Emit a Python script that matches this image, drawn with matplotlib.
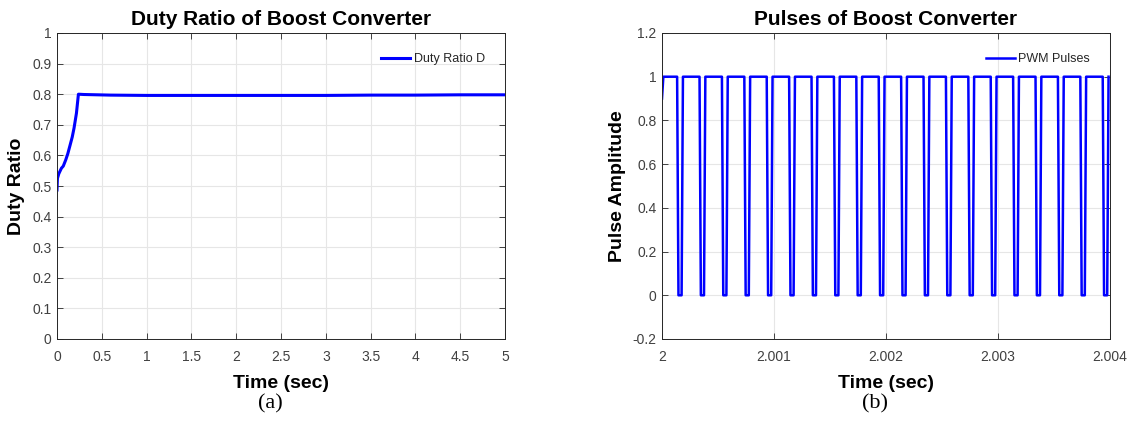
import matplotlib
matplotlib.use("Agg")
import matplotlib.pyplot as plt
import numpy as np

# ---- data ----
duty_t = [0.0, 0.005, 0.02, 0.049, 0.07, 0.097, 0.12, 0.142, 0.17, 0.19, 0.217, 0.239, 0.3, 0.6, 1.0, 1.5, 2.0, 2.5, 3.0, 3.5, 4.0, 4.5, 5.0]
duty_d = [0.487, 0.525, 0.540, 0.558, 0.565, 0.585, 0.605, 0.629, 0.66, 0.689, 0.738, 0.800, 0.799, 0.797, 0.796, 0.796, 0.796, 0.796, 0.796, 0.797, 0.797, 0.798, 0.798]

# PWM: falling-edge start times (sec) of each pulse
pwm_fall = [2.000135, 2.000335, 2.000535, 2.000735, 2.000935, 2.001135, 2.001335, 2.001535,
            2.001735, 2.001935, 2.002135, 2.002335, 2.002535, 2.002735, 2.002935, 2.003135,
            2.003335, 2.003535, 2.003735, 2.003935]
pwm_start_val = 0.9
pwm_high = 1.0
pwm_low = 0.0
edge = 0.000012     # transition duration
low_hold = 0.000028  # time held at zero

# ---- figure ----
plt.rcParams['font.family'] = ['Liberation Sans', 'DejaVu Sans']
W, H = 1127, 425
fig = plt.figure(figsize=(W / 100, H / 100), dpi=100)

tick_col = '#404040'
grid_col = '#e6e6e6'
blue = '#0000ff'

def style(ax):
    ax.grid(True, color=grid_col, linewidth=0.8)
    ax.set_axisbelow(True)
    for s in ax.spines.values():
        s.set_color('#262626')
        s.set_linewidth(0.7)
    ax.tick_params(direction='in', length=4, width=0.6, colors='#262626',
                   labelcolor=tick_col, labelsize=10, top=True, right=True)
    ax.tick_params(axis='y', pad=4)
    ax.tick_params(axis='x', pad=8)

def legend(ax):
    lg = ax.legend(loc='upper right', frameon=False, fontsize=9, handlelength=2.3,
                   handletextpad=0.3, borderaxespad=1.2)
    for t in lg.get_texts():
        t.set_color('#262626')

ax_w = 448 / W
ax_h = 306 / H
ax_b = 1 - 339 / H

ax1 = fig.add_axes([57 / W, ax_b, ax_w, ax_h])
ax1.plot(duty_t, duty_d, color=blue, linewidth=2.2, label='Duty Ratio D')
ax1.set_xlim(0, 5)
ax1.set_ylim(0, 1)
ax1.set_xticks(np.arange(0, 5.01, 0.5))
ax1.set_xticklabels(['0', '0.5', '1', '1.5', '2', '2.5', '3', '3.5', '4', '4.5', '5'])
ax1.set_yticks(np.arange(0, 1.01, 0.1))
ax1.set_yticklabels(['0', '0.1', '0.2', '0.3', '0.4', '0.5', '0.6', '0.7', '0.8', '0.9', '1'])
style(ax1)
ax1.set_title('Duty Ratio of Boost Converter', fontsize=15, fontweight='bold', pad=6)
ax1.set_xlabel('Time (sec)', fontsize=14, fontweight='bold', labelpad=8)
ax1.set_ylabel('Duty Ratio', fontsize=14, fontweight='bold')
ax1.yaxis.set_label_coords((25 - 57) / 448, 0.5)
legend(ax1)

# build PWM waveform from edge times
px = [2.0, 2.0 + 0.000012]
py = [pwm_start_val, pwm_high]
for f in pwm_fall:
    px += [f, f + edge, f + edge + low_hold, f + 2 * edge + low_hold]
    py += [pwm_high, pwm_low, pwm_low, pwm_high]

ax2 = fig.add_axes([662 / W, ax_b, ax_w, ax_h])
ax2.plot(px, py, color=blue, linewidth=1.8, label='PWM Pulses')
ax2.set_xlim(2.0, 2.004)
ax2.set_ylim(-0.2, 1.2)
ax2.set_xticks([2.0, 2.001, 2.002, 2.003, 2.004])
ax2.set_xticklabels(['2', '2.001', '2.002', '2.003', '2.004'])
ax2.set_yticks(np.arange(-0.2, 1.21, 0.2))
ax2.set_yticklabels(['-0.2', '0', '0.2', '0.4', '0.6', '0.8', '1', '1.2'])
style(ax2)
ax2.set_title('Pulses of Boost Converter', fontsize=15, fontweight='bold', pad=6)
ax2.set_xlabel('Time (sec)', fontsize=14, fontweight='bold', labelpad=8)
ax2.set_ylabel('Pulse Amplitude', fontsize=14, fontweight='bold')
ax2.yaxis.set_label_coords((626 - 662) / 448, 0.5)
legend(ax2)

fig.text(270 / W, 1 - 404 / H, '(a)', ha='center', va='center', fontsize=16, family='Liberation Serif')
fig.text(875 / W, 1 - 404 / H, '(b)', ha='center', va='center', fontsize=16, family='Liberation Serif')

fig.savefig('out.png', dpi=100)
